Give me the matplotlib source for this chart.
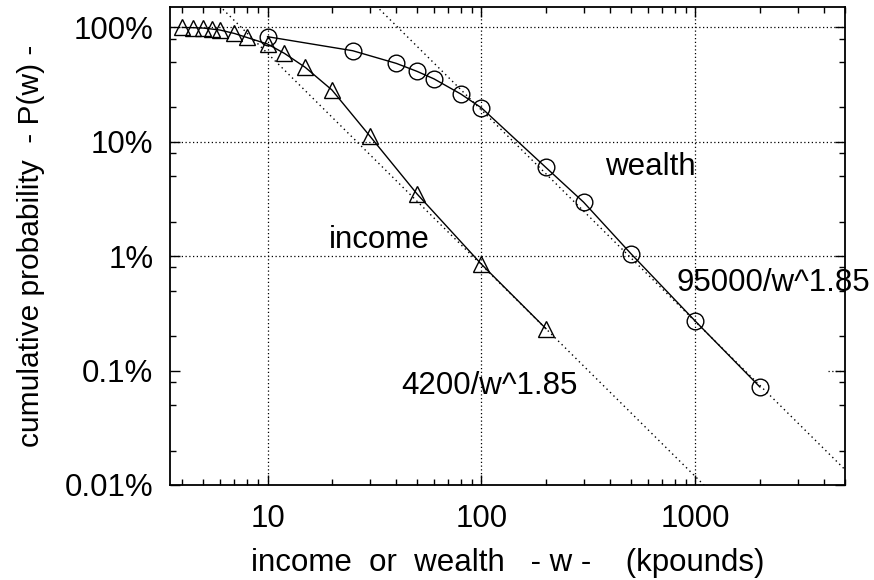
import numpy as np
import matplotlib
matplotlib.use("Agg")
from matplotlib import pyplot as plt
from matplotlib.ticker import FixedLocator, NullFormatter

# income distribution (kpounds, cumulative %)
income_w = [4, 4.5, 5, 5.5, 6, 7, 8, 10, 12, 15, 20, 30, 50, 100, 200]
income_p = [100, 99.5, 98.8, 96.8, 94.9, 88.6, 81.8, 71.6, 59.3, 44.8, 28.4, 11.3, 3.5, 0.85, 0.233]

# wealth distribution (kpounds, cumulative %)
wealth_w = [10, 25, 40, 50, 60, 80, 100, 200, 300, 500, 1000, 2000]
wealth_p = [83, 62.6, 48.5, 41.3, 35.5, 26.2, 19.8, 5.97, 2.97, 1.05, 0.27, 0.072]

# power law fits  P = c / w^alpha
income_c = 4200
wealth_c = 95000
alpha = 1.85

y_ticks = [0.01, 0.1, 1, 10, 100]
y_ticklabels = ["0.01%", "0.1%", "1%", "10%", "100%"]
x_ticks = [10, 100, 1000]
x_ticklabels = ["10", "100", "1000"]

plt.rcParams['font.family'] = ['Liberation Sans', 'DejaVu Sans']
FS = 22.5

fig = plt.figure(figsize=(8.74, 5.8), dpi=100)
ax = fig.add_axes([0.1945, 0.1638, 0.7723, 0.8236])

xmin, xmax = 3.5, 5000
ymin, ymax = 0.01, 150

ws = np.logspace(np.log10(xmin), np.log10(xmax), 200)
ax.plot(ws, income_c / ws ** alpha, color="black", lw=1.0, ls=(0, (1, 2.5)))
ax.plot(ws, wealth_c / ws ** alpha, color="black", lw=1.0, ls=(0, (1, 2.5)))

ax.plot(income_w, income_p, color="black", lw=1.0, marker="^", ms=11,
        mfc="none", mec="black", mew=1.0)
ax.plot(wealth_w, wealth_p, color="black", lw=1.0, marker="o", ms=12,
        mfc="none", mec="black", mew=1.0)

ax.set_xscale("log")
ax.set_yscale("log")
ax.set_xlim(xmin, xmax)
ax.set_ylim(ymin, ymax)

ax.xaxis.set_major_locator(FixedLocator(x_ticks))
ax.set_xticklabels(x_ticklabels)
ax.xaxis.set_minor_locator(FixedLocator(
    [m * 10 ** e for e in range(0, 4) for m in range(2, 10)]))
ax.xaxis.set_minor_formatter(NullFormatter())

ax.yaxis.set_major_locator(FixedLocator(y_ticks))
ax.set_yticklabels(y_ticklabels)
ax.yaxis.set_minor_locator(FixedLocator(
    [m * 10 ** e for e in range(-2, 3) for m in (2, 5, 8)]))
ax.yaxis.set_minor_formatter(NullFormatter())

ax.tick_params(which="both", direction="in", top=True, right=True,
               labelsize=FS, width=1.0, colors="black")
ax.tick_params(axis="x", pad=14)
ax.tick_params(axis="y", pad=12)
ax.tick_params(which="major", length=7)
ax.tick_params(which="minor", length=4)
for s in ax.spines.values():
    s.set_linewidth(1.3)

# grid: dotted at major ticks, the 0.1% line only shows at the far right
grid_kw = dict(color="black", lw=0.9, ls=(0, (1, 2)), zorder=0)
for xv in x_ticks:
    ax.axvline(xv, **grid_kw)
for yv in y_ticks[1:]:
    if yv == 0.1:
        ax.axhline(yv, xmin=0.975, **grid_kw)
    else:
        ax.axhline(yv, **grid_kw)

ax.text(1000, 6.0, "wealth", fontsize=FS, ha="right", va="center")
ax.text(57, 1.38, "income", fontsize=FS, ha="right", va="center")
ax.text(820, 0.58, "95000/w^1.85", fontsize=FS, ha="left", va="center",
        clip_on=False)
ax.text(42, 0.074, "4200/w^1.85", fontsize=FS, ha="left", va="center")

ax.set_xlabel("income  or  wealth   - w -    (kpounds)", fontsize=FS, labelpad=10)
ax.set_ylabel("cumulative probability  - P(w) -", fontsize=21.5, labelpad=14)

fig.savefig("out.png", dpi=100)
